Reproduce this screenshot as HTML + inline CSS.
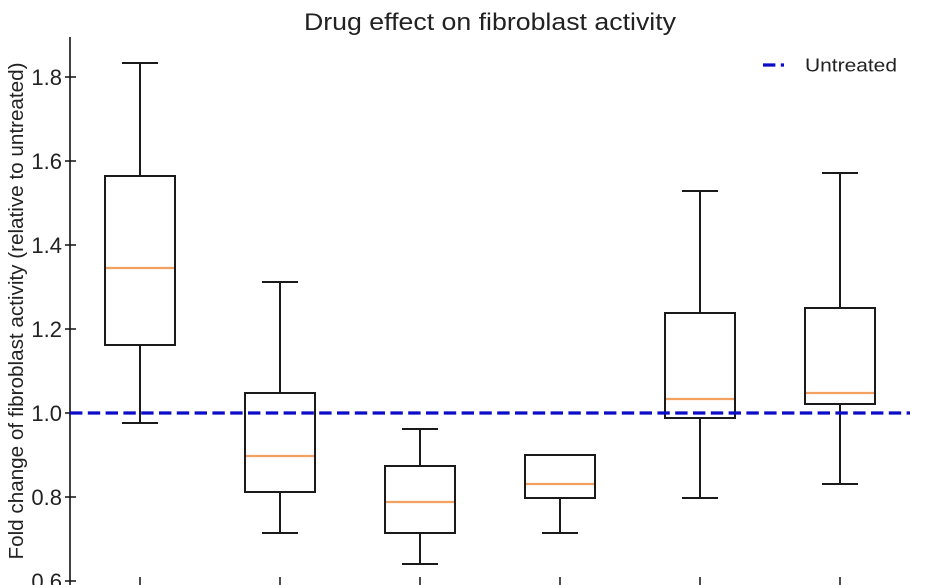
<!DOCTYPE html>
<html>
<head>
<meta charset="utf-8">
<style>
  html,body{margin:0;padding:0;background:#fff;}
  svg{display:block;}
  text{font-family:"Liberation Sans", Arial, sans-serif; fill:#222;}
</style>
</head>
<body>
<svg width="928" height="585" viewBox="0 0 928 585" xmlns="http://www.w3.org/2000/svg">
  <rect width="928" height="585" fill="#fff"/>

  <!-- Title -->
  <text x="490" y="30" font-size="24" text-anchor="middle" textLength="372" lengthAdjust="spacingAndGlyphs">Drug effect on fibroblast activity</text>

  <!-- Y label -->
  <text transform="translate(23,311) rotate(-90)" x="0" y="0" font-size="20" text-anchor="middle" textLength="497" lengthAdjust="spacingAndGlyphs">Fold change of fibroblast activity (relative to untreated)</text>

  <!-- Left spine -->
  <line x1="70" y1="37" x2="70" y2="585" stroke="#111" stroke-width="1.6"/>

  <!-- Y ticks -->
  <g stroke="#111" stroke-width="1.5">
    <line x1="65" y1="77" x2="76" y2="77"/>
    <line x1="65" y1="161" x2="76" y2="161"/>
    <line x1="65" y1="245" x2="76" y2="245"/>
    <line x1="65" y1="329" x2="76" y2="329"/>
    <line x1="65" y1="413" x2="76" y2="413"/>
    <line x1="65" y1="497" x2="76" y2="497"/>
    <line x1="65" y1="581" x2="76" y2="581"/>
  </g>
  <g font-size="22" text-anchor="end">
    <text x="62" y="85">1.8</text>
    <text x="62" y="169">1.6</text>
    <text x="62" y="253">1.4</text>
    <text x="62" y="337">1.2</text>
    <text x="62" y="421">1.0</text>
    <text x="62" y="505">0.8</text>
    <text x="62" y="589">0.6</text>
  </g>

  <!-- X ticks -->
  <g stroke="#111" stroke-width="1.5">
    <line x1="140" y1="577" x2="140" y2="585"/>
    <line x1="280" y1="577" x2="280" y2="585"/>
    <line x1="420" y1="577" x2="420" y2="585"/>
    <line x1="560" y1="577" x2="560" y2="585"/>
    <line x1="700" y1="577" x2="700" y2="585"/>
    <line x1="840" y1="577" x2="840" y2="585"/>
  </g>

  <!-- Boxes -->
  <g fill="none" stroke="#1a1a1a" stroke-width="2">
    <!-- 1 -->
    <line x1="140" y1="63" x2="140" y2="176"/>
    <line x1="122" y1="63" x2="158" y2="63"/>
    <rect x="105" y="176" width="70" height="169"/>
    <line x1="140" y1="345" x2="140" y2="423"/>
    <line x1="122" y1="423" x2="158" y2="423"/>
    <!-- 2 -->
    <line x1="280" y1="282" x2="280" y2="393"/>
    <line x1="262" y1="282" x2="298" y2="282"/>
    <rect x="245" y="393" width="70" height="99"/>
    <line x1="280" y1="492" x2="280" y2="533"/>
    <line x1="262" y1="533" x2="298" y2="533"/>
    <!-- 3 -->
    <line x1="420" y1="429" x2="420" y2="466"/>
    <line x1="402" y1="429" x2="438" y2="429"/>
    <rect x="385" y="466" width="70" height="67"/>
    <line x1="420" y1="533" x2="420" y2="564"/>
    <line x1="402" y1="564" x2="438" y2="564"/>
    <!-- 4 -->
    <rect x="525" y="455" width="70" height="43"/>
    <line x1="560" y1="498" x2="560" y2="533"/>
    <line x1="542" y1="533" x2="578" y2="533"/>
    <!-- 5 -->
    <line x1="700" y1="191" x2="700" y2="313"/>
    <line x1="682" y1="191" x2="718" y2="191"/>
    <rect x="665" y="313" width="70" height="105"/>
    <line x1="700" y1="418" x2="700" y2="498"/>
    <line x1="682" y1="498" x2="718" y2="498"/>
    <!-- 6 -->
    <line x1="840" y1="173" x2="840" y2="308"/>
    <line x1="822" y1="173" x2="858" y2="173"/>
    <rect x="805" y="308" width="70" height="96"/>
    <line x1="840" y1="404" x2="840" y2="484"/>
    <line x1="822" y1="484" x2="858" y2="484"/>
  </g>

  <!-- Medians -->
  <g stroke="#f2a160" stroke-width="2.2">
    <line x1="106" y1="268" x2="174" y2="268"/>
    <line x1="246" y1="456" x2="314" y2="456"/>
    <line x1="386" y1="502" x2="454" y2="502"/>
    <line x1="526" y1="484" x2="594" y2="484"/>
    <line x1="666" y1="399" x2="734" y2="399"/>
    <line x1="806" y1="393" x2="874" y2="393"/>
  </g>

  <!-- Untreated dashed line -->
  <line x1="70" y1="413" x2="910" y2="413" stroke="#0b0bc8" stroke-width="3.2" stroke-dasharray="12.4 5.4"/>

  <!-- Legend -->
  <line x1="763" y1="65" x2="784" y2="65" stroke="#0b0bc8" stroke-width="3.2" stroke-dasharray="12.4 5.4"/>
  <text x="805" y="71.5" font-size="18" textLength="92" lengthAdjust="spacingAndGlyphs">Untreated</text>
</svg>
</body>
</html>
